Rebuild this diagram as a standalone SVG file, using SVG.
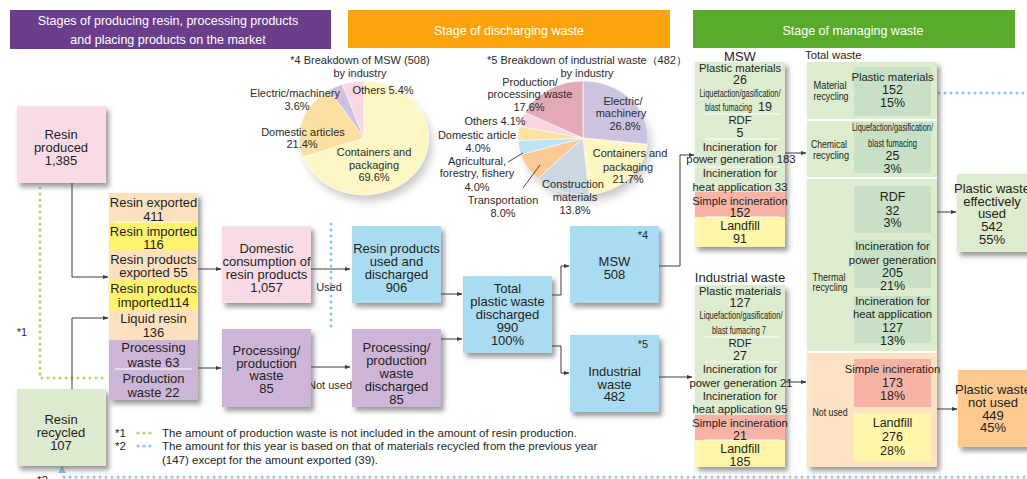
<svg xmlns="http://www.w3.org/2000/svg" width="1027" height="479" viewBox="0 0 1027 479">
<defs>
  <filter id="sh" x="-15%" y="-15%" width="140%" height="140%">
    <feDropShadow dx="3" dy="4" stdDeviation="2.5" flood-color="#444" flood-opacity="0.55"/>
  </filter>
  <filter id="soft" x="-30%" y="-30%" width="160%" height="160%">
    <feGaussianBlur stdDeviation="4"/>
  </filter>
  <marker id="ar" viewBox="0 0 10 10" refX="9" refY="5" markerWidth="6" markerHeight="6" orient="auto">
    <path d="M0,1.5 L10,5 L0,8.5 Z" fill="#3d3d3d"/>
  </marker>
</defs>
<style>
  text{font-family:"Liberation Sans",Arial,Helvetica,sans-serif;fill:#231f20;text-anchor:middle}
  .h{fill:#fff;font-size:12.5px}
  .m{font-size:13px}
  .s{font-size:11.3px}
  .n{font-size:12.5px}
  .c{font-size:10.5px}
  .pl{font-size:11px;fill:#2b2b2b}
  .fn{font-size:11.5px;text-anchor:start}
  .ln{fill:none;stroke:#3d3d3d;stroke-width:1}
  .ldr{fill:none;stroke:#333;stroke-width:0.9}
  .gd{fill:none;stroke:#b5d46a;stroke-width:3;stroke-linecap:round;stroke-dasharray:0 6}
  .bd{fill:none;stroke:#7ecbf0;stroke-width:3;stroke-linecap:round;stroke-dasharray:0 6}
  .sep{stroke:#fff;stroke-width:1.2}
  .pk{fill:#f9dbe7}
  .bl{fill:#a9dbf3}
  .pu{fill:#cdb5d7}
  .or{fill:#fde1bf}
  .ye{fill:#fff36e}
  .gr{fill:#ddebce}
  .ig{fill:#c8e1c6}
  .rd{fill:#f8b3a5}
  .lf{fill:#fff6a9}
  .sl{stroke:#fff;stroke-width:0.6}
</style>

<rect width="1027" height="479" fill="#fff"/>

<!-- stage headers -->
<g id="header-production">
  <rect x="10" y="10" width="321" height="39" fill="#6b3e8b"/>
  <text class="h" x="168" y="25">Stages of producing resin, processing products</text>
  <text class="h" x="168" y="44">and placing products on the market</text>
</g>
<g id="header-discharge">
  <rect x="348" y="10" width="322" height="38" fill="#fba30a"/>
  <text class="h" x="509" y="35">Stage of discharging waste</text>
</g>
<g id="header-managing">
  <rect x="693" y="10" width="322" height="38" fill="#5aab2d"/>
  <text class="h" x="853" y="35">Stage of managing waste</text>
</g>

<!-- MSW breakdown pie -->
<g id="pie-msw">
  <ellipse cx="368" cy="145" rx="64" ry="56" fill="#888" opacity="0.45" filter="url(#soft)"/>
  <path class="sl" d="M364,138 L364,81 A65,57 0 1 1 302.7,157 Z" fill="#fff7c3"/>
  <path class="sl" d="M364,138 L302.7,157 A65,57 0 0 1 329.2,89.9 Z" fill="#fce0a1"/>
  <path class="sl" d="M364,138 L329.2,89.9 A65,57 0 0 1 342.4,84.25 Z" fill="#cdc3e0"/>
  <path class="sl" d="M364,138 L342.4,84.25 A65,57 0 0 1 364,81 Z" fill="#f9d6e4"/>
  <text class="pl" x="360" y="64">*4 Breakdown of MSW (508)</text>
  <text class="pl" x="360" y="77">by industry</text>
  <text class="pl" x="295" y="97">Electric/machinery</text>
  <text class="pl" x="297" y="110">3.6%</text>
  <text class="pl" x="383" y="94">Others 5.4%</text>
  <text class="pl" x="303" y="136">Domestic articles</text>
  <text class="pl" x="302" y="148">21.4%</text>
  <text class="pl" x="374" y="156">Containers and</text>
  <text class="pl" x="374" y="169">packaging</text>
  <text class="pl" x="374" y="181">69.6%</text>
</g>

<!-- industrial waste breakdown pie -->
<g id="pie-industrial">
  <ellipse cx="587" cy="145" rx="64" ry="56" fill="#888" opacity="0.45" filter="url(#soft)"/>
  <path class="sl" d="M583,138 L583,81 A65,57 0 0 1 647.58,144.43 Z" fill="#cdc3e1"/>
  <path class="sl" d="M583,138 L647.58,144.43 A65,57 0 0 1 589.12,194.75 Z" fill="#fff6c1"/>
  <path class="sl" d="M583,138 L589.12,194.75 A65,57 0 0 1 537.62,178.81 Z" fill="#cbd8e3"/>
  <path class="sl" d="M583,138 L537.62,178.81 A65,57 0 0 1 520.81,154.59 Z" fill="#fbca95"/>
  <path class="sl" d="M583,138 L520.81,154.59 A65,57 0 0 1 518.06,140.51 Z" fill="#bfe3f6"/>
  <path class="sl" d="M583,138 L518.06,140.51 A65,57 0 0 1 519.39,126.26 Z" fill="#fce1a0"/>
  <path class="sl" d="M583,138 L519.39,126.26 A65,57 0 0 1 524.9,112.44 Z" fill="#f9d5e2"/>
  <path class="sl" d="M583,138 L524.9,112.44 A65,57 0 0 1 583,81 Z" fill="#e4a9b7"/>
  <path class="ldr" d="M508,162 L523,153"/>
  <path class="ldr" d="M523,188 L540,165"/>
  <text class="pl" x="587" y="64">*5 Breakdown of industrial waste（482）</text>
  <text class="pl" x="587" y="77">by industry</text>
  <text class="pl" x="530" y="86">Production/</text>
  <text class="pl" x="530" y="98">processing waste</text>
  <text class="pl" x="529" y="111">17.6%</text>
  <text class="pl" x="623" y="105">Electric/</text>
  <text class="pl" x="621" y="117">machinery</text>
  <text class="pl" x="625" y="130">26.8%</text>
  <text class="pl" x="495" y="125">Others 4.1%</text>
  <text class="pl" x="477" y="139">Domestic article</text>
  <text class="pl" x="478" y="152">4.0%</text>
  <text class="pl" x="477" y="165">Agricultural,</text>
  <text class="pl" x="477" y="177">forestry, fishery</text>
  <text class="pl" x="477" y="191">4.0%</text>
  <text class="pl" x="503" y="204">Transportation</text>
  <text class="pl" x="503" y="217">8.0%</text>
  <text class="pl" x="573" y="188">Construction</text>
  <text class="pl" x="575" y="201">materials</text>
  <text class="pl" x="575" y="214">13.8%</text>
  <text class="pl" x="630" y="157">Containers and</text>
  <text class="pl" x="628" y="171">packaging</text>
  <text class="pl" x="628" y="183">21.7%</text>
</g>

<!-- connectors -->
<g id="connectors">
  <path class="gd" d="M40,188 V378 H108"/>
  <path class="bd" d="M331,224 V327"/>
  <path class="bd" d="M903,93 H1030"/>
  <path class="bd" d="M1030,477 H62 V474"/>
  <path d="M58,473 L62,466 L66,473 Z" fill="#7ecbf0"/>
  <path class="ln" marker-end="url(#ar)" d="M72,183 V277 H108"/>
  <path class="ln" marker-end="url(#ar)" d="M72,389 V318 H108"/>
  <path class="ln" marker-end="url(#ar)" d="M198,269 H221"/>
  <path class="ln" marker-end="url(#ar)" d="M198,368 H221"/>
  <path class="ln" marker-end="url(#ar)" d="M311,269 H350"/>
  <path class="ln" marker-end="url(#ar)" d="M311,367 H350"/>
  <path class="ln" marker-end="url(#ar)" d="M441,294 H462"/>
  <path class="ln" marker-end="url(#ar)" d="M441,339 H462"/>
  <path class="ln" marker-end="url(#ar)" d="M552,295 H561 V266 H569"/>
  <path class="ln" marker-end="url(#ar)" d="M552,346 H561 V373 H569"/>
  <path class="ln" marker-end="url(#ar)" d="M659,266 H680 V155 H694"/>
  <path class="ln" marker-end="url(#ar)" d="M659,377 H692"/>
  <path class="ln" marker-end="url(#ar)" d="M785,153 H806"/>
  <path class="ln" marker-end="url(#ar)" d="M785,382 H806"/>
  <path class="ln" marker-end="url(#ar)" d="M937,212 H956"/>
  <path class="ln" marker-end="url(#ar)" d="M937,409 H957"/>
  <text class="pl" x="329" y="291">Used</text>
  <text class="pl" x="330" y="389">Not used</text>
  <text class="pl" x="22" y="336">*1</text>
</g>

<!-- production stage -->
<g id="resin-produced">
  <rect class="pk" x="17" y="106" width="89" height="77" filter="url(#sh)"/>
  <text class="m" x="61" y="139">Resin</text>
  <text class="m" x="61" y="152">produced</text>
  <text class="m" x="61" y="165">1,385</text>
</g>

<g id="resin-recycled">
  <rect x="17" y="389" width="89" height="77" fill="#ddeacf" filter="url(#sh)"/>
  <text class="m" x="61" y="424">Resin</text>
  <text class="m" x="61" y="437">recycled</text>
  <text class="m" x="61" y="450">107</text>
</g>

<g id="resin-flows">
  <rect x="109" y="193" width="89" height="207" fill="#fde1bf" filter="url(#sh)"/>
  <rect class="or" x="109" y="193" width="89" height="29"/>
  <rect class="ye" x="109" y="222" width="89" height="28"/>
  <rect class="or" x="109" y="250" width="89" height="30"/>
  <rect class="ye" x="109" y="280" width="89" height="30"/>
  <rect class="or" x="109" y="310" width="89" height="30"/>
  <rect class="pu" x="109" y="340" width="89" height="60"/>
  <line class="sep" x1="115" y1="222" x2="192" y2="222"/>
  <line class="sep" x1="115" y1="369" x2="192" y2="369"/>
  <text class="m" x="153.5" y="207">Resin exported</text>
  <text class="m" x="153.5" y="221">411</text>
  <text class="m" x="153.5" y="236">Resin imported</text>
  <text class="m" x="153.5" y="249">116</text>
  <text class="m" x="153.5" y="264">Resin products</text>
  <text class="m" x="153.5" y="277">exported 55</text>
  <text class="m" x="153.5" y="293">Resin products</text>
  <text class="m" x="153.5" y="307">imported114</text>
  <text class="m" x="153.5" y="323">Liquid resin</text>
  <text class="m" x="153.5" y="337">136</text>
  <text class="m" x="153.5" y="352">Processing</text>
  <text class="m" x="153.5" y="367">waste 63</text>
  <text class="m" x="153.5" y="383">Production</text>
  <text class="m" x="153.5" y="397">waste 22</text>
</g>

<g id="domestic-consumption">
  <rect class="pk" x="222" y="226" width="89" height="77" filter="url(#sh)"/>
  <text class="m" x="266.5" y="253">Domestic</text>
  <text class="m" x="266.5" y="266">consumption of</text>
  <text class="m" x="266.5" y="279">resin products</text>
  <text class="m" x="266.5" y="292">1,057</text>
</g>

<g id="processing-waste">
  <rect class="pu" x="222" y="329" width="89" height="78" filter="url(#sh)"/>
  <text class="m" x="266.5" y="355">Processing/</text>
  <text class="m" x="266.5" y="368">production</text>
  <text class="m" x="266.5" y="380">waste</text>
  <text class="m" x="266.5" y="393">85</text>
</g>

<!-- discharge stage -->
<g id="products-discharged">
  <rect class="bl" x="352" y="226" width="89" height="77" filter="url(#sh)"/>
  <text class="m" x="396.5" y="253">Resin products</text>
  <text class="m" x="396.5" y="266">used and</text>
  <text class="m" x="396.5" y="279">discharged</text>
  <text class="m" x="396.5" y="292">906</text>
</g>

<g id="processing-discharged">
  <rect class="pu" x="352" y="329" width="89" height="78" filter="url(#sh)"/>
  <text class="m" x="396.5" y="352">Processing/</text>
  <text class="m" x="396.5" y="365">production</text>
  <text class="m" x="396.5" y="378">waste</text>
  <text class="m" x="396.5" y="391">discharged</text>
  <text class="m" x="396.5" y="404">85</text>
</g>

<g id="total-discharged">
  <rect class="bl" x="463" y="276" width="89" height="77" filter="url(#sh)"/>
  <text class="m" x="507.5" y="293">Total</text>
  <text class="m" x="507.5" y="306">plastic waste</text>
  <text class="m" x="507.5" y="319">discharged</text>
  <text class="m" x="507.5" y="332">990</text>
  <text class="m" x="507.5" y="345">100%</text>
</g>

<g id="msw">
  <rect class="bl" x="570" y="226" width="89" height="77" filter="url(#sh)"/>
  <text class="pl" x="643" y="239">*4</text>
  <text class="m" x="614.5" y="266">MSW</text>
  <text class="m" x="614.5" y="279">508</text>
</g>

<g id="industrial">
  <rect class="bl" x="570" y="335" width="89" height="77" filter="url(#sh)"/>
  <text class="pl" x="643" y="348">*5</text>
  <text class="m" x="614.5" y="376">Industrial</text>
  <text class="m" x="614.5" y="389">waste</text>
  <text class="m" x="614.5" y="401">482</text>
</g>

<!-- managing stage: MSW treatment -->
<g id="msw-treatment">
  <text class="m" x="740" y="61">MSW</text>
  <rect class="gr" x="695" y="62" width="90" height="185" filter="url(#sh)"/>
  <rect class="rd" x="695" y="192" width="90" height="25"/>
  <rect class="lf" x="695" y="217" width="90" height="30"/>
  <line class="sep" x1="705" y1="114" x2="780" y2="114"/>
  <line class="sep" x1="705" y1="139" x2="780" y2="139"/>
  <line class="sep" x1="705" y1="167" x2="780" y2="167"/>
  <line class="sep" x1="705" y1="217" x2="780" y2="217"/>
  <text class="s" x="740" y="72">Plastic materials</text>
  <text class="n" x="740" y="84">26</text>
  <text class="c" x="740" y="97" textLength="81" lengthAdjust="spacingAndGlyphs">Liquetaction/gasification/</text>
  <text class="c" x="705" y="111" style="text-anchor:start" textLength="47" lengthAdjust="spacingAndGlyphs">blast fumacing</text>
  <text class="n" x="758" y="111" style="text-anchor:start">19</text>
  <text class="s" x="740" y="124">RDF</text>
  <text class="n" x="740" y="137">5</text>
  <text class="s" x="740" y="151">Incineration for</text>
  <text class="s" x="741" y="163">power generation 183</text>
  <text class="s" x="740" y="177">Incineration for</text>
  <text class="s" x="740" y="191">heat application 33</text>
  <text class="s" x="740" y="205">Simple incineration</text>
  <text class="n" x="740" y="217">152</text>
  <text class="n" x="740" y="230">Landfill</text>
  <text class="n" x="740" y="243">91</text>
</g>

<!-- managing stage: industrial waste treatment -->
<g id="industrial-treatment">
  <text class="m" x="740" y="282">Industrial waste</text>
  <rect class="gr" x="695" y="285" width="90" height="182" filter="url(#sh)"/>
  <rect class="rd" x="695" y="415" width="90" height="25"/>
  <rect class="lf" x="695" y="440" width="90" height="27"/>
  <line class="sep" x1="705" y1="337" x2="780" y2="337"/>
  <line class="sep" x1="705" y1="362" x2="780" y2="362"/>
  <line class="sep" x1="705" y1="440" x2="780" y2="440"/>
  <text class="s" x="740" y="295">Plastic materials</text>
  <text class="n" x="740" y="307">127</text>
  <text class="c" x="741" y="319" textLength="83" lengthAdjust="spacingAndGlyphs">Liquefaction/gasification/</text>
  <text class="c" x="739" y="334" textLength="54" lengthAdjust="spacingAndGlyphs">blast fumacing 7</text>
  <text class="s" x="740" y="347">RDF</text>
  <text class="n" x="740" y="360">27</text>
  <text class="s" x="740" y="373">Incineration for</text>
  <text class="s" x="741" y="387">power generation 21</text>
  <text class="s" x="740" y="400">Incineration for</text>
  <text class="s" x="740" y="413">heat application 95</text>
  <text class="s" x="740" y="427">Simple incineration</text>
  <text class="n" x="740" y="440">21</text>
  <text class="n" x="740" y="453">Landfill</text>
  <text class="n" x="740" y="466">185</text>
</g>

<!-- managing stage: total waste -->
<g id="total-waste">
  <text class="s" x="805" y="59" style="text-anchor:start">Total waste</text>
  <rect class="gr" x="807" y="62" width="130" height="405" filter="url(#sh)"/>
  <rect x="807" y="353" width="130" height="114" fill="#fde2c4"/>
  <line x1="807" y1="120" x2="937" y2="120" stroke="#fff" stroke-width="2"/>
  <line x1="807" y1="178" x2="937" y2="178" stroke="#fff" stroke-width="2"/>
  <line x1="807" y1="352" x2="937" y2="352" stroke="#fff" stroke-width="2"/>
  <rect class="ig" x="854" y="67" width="77" height="49"/>
  <rect class="ig" x="854" y="122" width="77" height="51"/>
  <rect class="ig" x="854" y="186" width="77" height="47"/>
  <rect class="ig" x="854" y="240" width="77" height="48"/>
  <rect class="ig" x="854" y="296" width="77" height="47"/>
  <rect class="rd" x="854" y="359" width="77" height="48"/>
  <rect class="lf" x="854" y="413" width="77" height="48"/>

  <text class="c" x="830" y="89" textLength="33" lengthAdjust="spacingAndGlyphs">Material</text>
  <text class="c" x="831" y="100" textLength="35" lengthAdjust="spacingAndGlyphs">recycling</text>
  <text class="c" x="829" y="148" textLength="36" lengthAdjust="spacingAndGlyphs">Chemical</text>
  <text class="c" x="831" y="159" textLength="36" lengthAdjust="spacingAndGlyphs">recycling</text>
  <text class="c" x="829" y="281" textLength="33" lengthAdjust="spacingAndGlyphs">Thermal</text>
  <text class="c" x="830" y="291" textLength="35" lengthAdjust="spacingAndGlyphs">recycling</text>
  <text class="c" x="830" y="416" textLength="35" lengthAdjust="spacingAndGlyphs">Not used</text>

  <text class="s" x="892.5" y="81">Plastic materials</text>
  <text class="n" x="892.5" y="94">152</text>
  <text class="n" x="892.5" y="107">15%</text>
  <text class="c" x="892.5" y="131" textLength="81" lengthAdjust="spacingAndGlyphs">Liquefaction/gasification/</text>
  <text class="c" x="892.5" y="147" textLength="49" lengthAdjust="spacingAndGlyphs">blast fumacing</text>
  <text class="n" x="892.5" y="160">25</text>
  <text class="n" x="892.5" y="173">3%</text>
  <text class="n" x="892.5" y="201">RDF</text>
  <text class="n" x="892.5" y="215">32</text>
  <text class="n" x="892.5" y="227">3%</text>
  <text class="s" x="892.5" y="250">Incineration for</text>
  <text class="s" x="892.5" y="264">power generation</text>
  <text class="n" x="892.5" y="277">205</text>
  <text class="n" x="892.5" y="290">21%</text>
  <text class="s" x="892.5" y="305">Incineration for</text>
  <text class="s" x="892.5" y="318">heat application</text>
  <text class="n" x="892.5" y="332">127</text>
  <text class="n" x="892.5" y="345">13%</text>
  <text class="s" x="892.5" y="373">Simple incineration</text>
  <text class="n" x="892.5" y="387">173</text>
  <text class="n" x="892.5" y="400">18%</text>
  <text class="n" x="892.5" y="427">Landfill</text>
  <text class="n" x="892.5" y="441">276</text>
  <text class="n" x="892.5" y="455">28%</text>
</g>

<g id="effectively-used">
  <rect class="gr" x="957" y="174" width="85" height="78" filter="url(#sh)"/>
  <text class="m" x="992" y="193">Plastic waste</text>
  <text class="m" x="992" y="206">effectively</text>
  <text class="m" x="992" y="218">used</text>
  <text class="m" x="992" y="231">542</text>
  <text class="m" x="992" y="244">55%</text>
</g>

<g id="not-used">
  <rect x="958" y="370" width="85" height="77" fill="#fdc98f" filter="url(#sh)"/>
  <text class="m" x="993" y="394">Plastic waste</text>
  <text class="m" x="993" y="407">not used</text>
  <text class="m" x="993" y="420">449</text>
  <text class="m" x="993" y="432">45%</text>
</g>

<!-- footnotes -->
<g id="notes">
  <text class="fn" x="115" y="437">*1</text>
  <circle cx="138" cy="433" r="1.6" fill="#b5d46a"/>
  <circle cx="144" cy="433" r="1.6" fill="#b5d46a"/>
  <circle cx="150" cy="433" r="1.6" fill="#b5d46a"/>
  <text class="fn" x="162" y="437">The amount of production waste is not included in the amount of resin production.</text>
  <text class="fn" x="115" y="450">*2</text>
  <circle cx="138" cy="446" r="1.6" fill="#7ecbf0"/>
  <circle cx="144" cy="446" r="1.6" fill="#7ecbf0"/>
  <circle cx="150" cy="446" r="1.6" fill="#7ecbf0"/>
  <text class="fn" x="162" y="450">The amount for this year is based on that of materials recycled from the previous year</text>
  <text class="fn" x="162" y="464">(147) except for the amount exported (39).</text>
  <text class="fn" x="37" y="484">*2</text>
</g>
</svg>
